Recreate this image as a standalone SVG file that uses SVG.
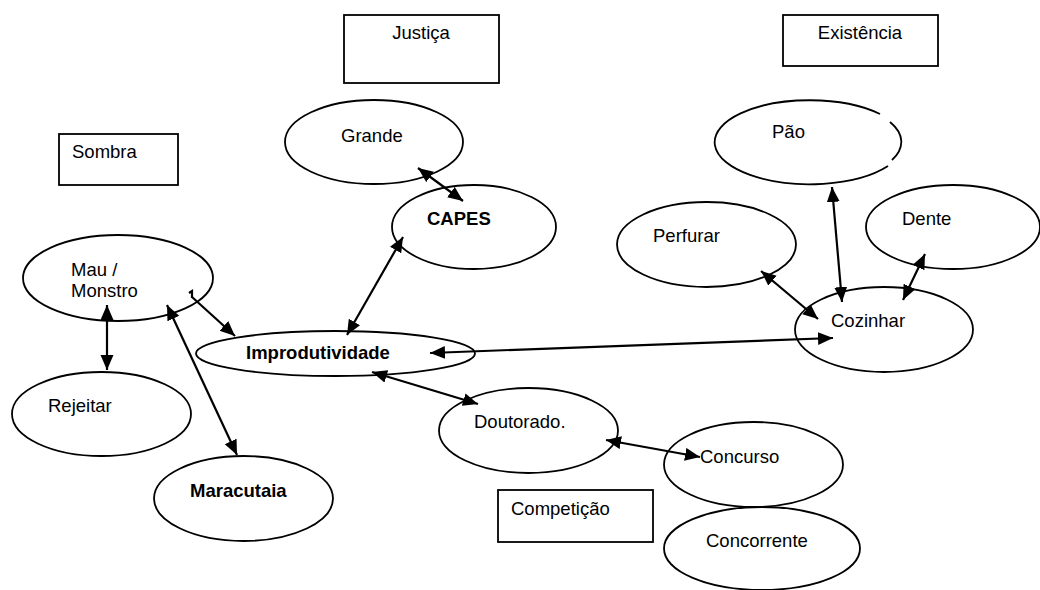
<svg xmlns="http://www.w3.org/2000/svg" width="1040" height="590" viewBox="0 0 1040 590">
<style>
.n{fill:#fff;stroke:#000;stroke-width:1.8}
.t{font-family:"Liberation Sans",Arial,sans-serif;font-size:18.5px;fill:#000}
.b{font-weight:bold}
.c{stroke:#000;stroke-width:2.2;fill:none}
</style>
<defs>
<marker id="ah" markerUnits="userSpaceOnUse" markerWidth="16" markerHeight="14" refX="15" refY="6.5" orient="auto-start-reverse">
<path d="M0,0 L15,6.5 L0,13 z" fill="#000"/>
</marker>
</defs>
<rect width="1040" height="590" fill="#fff"/>
<g id="justica"><rect class="n" x="344" y="15" width="155" height="68"/><text class="t" x="421" y="39" text-anchor="middle">Justiça</text></g>
<g id="existencia"><rect class="n" x="783" y="15" width="155" height="51"/><text class="t" x="860" y="39" text-anchor="middle">Existência</text></g>
<g id="sombra"><rect class="n" x="59" y="134" width="119" height="51"/><text class="t" x="72" y="158">Sombra</text></g>
<g id="competicao"><rect class="n" x="498" y="490" width="155" height="52"/><text class="t" x="511" y="515">Competição</text></g>
<g id="grande"><ellipse class="n" cx="374" cy="142" rx="89" ry="42"/><text class="t" x="341" y="142">Grande</text></g>
<g id="capes"><ellipse class="n" cx="474" cy="227" rx="82" ry="42"/><text class="t b" x="427" y="225">CAPES</text></g>
<g id="pao"><path class="n" d="M888,166 A95,42 0 1 1 880,114 M890,122 A95,42 0 0 1 892,160"/><text class="t" x="772" y="138">Pão</text></g>
<g id="perfurar"><ellipse class="n" cx="706.5" cy="244.5" rx="89.5" ry="42.5"/><text class="t" x="653" y="242">Perfurar</text></g>
<g id="dente"><ellipse class="n" cx="953" cy="227" rx="87" ry="42"/><text class="t" x="902" y="225">Dente</text></g>
<g id="mau"><ellipse class="n" cx="118" cy="278" rx="95" ry="43"/><text class="t" x="71" y="276">Mau /</text><text class="t" x="71" y="297">Monstro</text></g>
<g id="cozinhar"><ellipse class="n" cx="884" cy="329.5" rx="89" ry="42.5"/><text class="t" x="831" y="327">Cozinhar</text></g>
<g id="improdutividade"><ellipse class="n" cx="335.5" cy="353.5" rx="139.5" ry="22.5"/><text class="t b" x="246" y="359">Improdutividade</text></g>
<g id="rejeitar"><ellipse class="n" cx="101.5" cy="414" rx="89.5" ry="42"/><text class="t" x="48" y="412">Rejeitar</text></g>
<g id="doutorado"><ellipse class="n" cx="528.5" cy="430.5" rx="89.5" ry="42.5"/><text class="t" x="474" y="428">Doutorado.</text></g>
<g id="concurso"><ellipse class="n" cx="753.5" cy="464.5" rx="89.5" ry="42.5"/><text class="t" x="700" y="463">Concurso</text></g>
<g id="maracutaia"><ellipse class="n" cx="243.5" cy="498.5" rx="89.5" ry="42.5"/><text class="t b" x="190" y="497">Maracutaia</text></g>
<g id="concorrente"><ellipse class="n" cx="762" cy="548.5" rx="98" ry="41.5"/><text class="t" x="706" y="547">Concorrente</text></g>
<g id="connectors">
<line class="c" x1="418" y1="168" x2="463" y2="201" marker-start="url(#ah)" marker-end="url(#ah)"/>
<line class="c" x1="403" y1="237" x2="347" y2="335" marker-start="url(#ah)" marker-end="url(#ah)"/>
<path class="c" d="M189,293 L192,291 L192,298"/>
<line class="c" x1="192" y1="297" x2="235" y2="336" marker-end="url(#ah)"/>
<line class="c" x1="107" y1="305" x2="107" y2="370" marker-start="url(#ah)" marker-end="url(#ah)"/>
<line class="c" x1="167" y1="305" x2="237" y2="455" marker-start="url(#ah)" marker-end="url(#ah)"/>
<line class="c" x1="372" y1="372" x2="478" y2="404" marker-start="url(#ah)" marker-end="url(#ah)"/>
<line class="c" x1="430" y1="353" x2="833" y2="338" marker-start="url(#ah)" marker-end="url(#ah)"/>
<line class="c" x1="606" y1="440" x2="700" y2="457" marker-start="url(#ah)" marker-end="url(#ah)"/>
<line class="c" x1="761" y1="271" x2="818" y2="319" marker-start="url(#ah)" marker-end="url(#ah)"/>
<line class="c" x1="832" y1="187" x2="842" y2="302" marker-start="url(#ah)" marker-end="url(#ah)"/>
<line class="c" x1="925" y1="254" x2="903" y2="300" marker-start="url(#ah)" marker-end="url(#ah)"/>
</g>
</svg>
